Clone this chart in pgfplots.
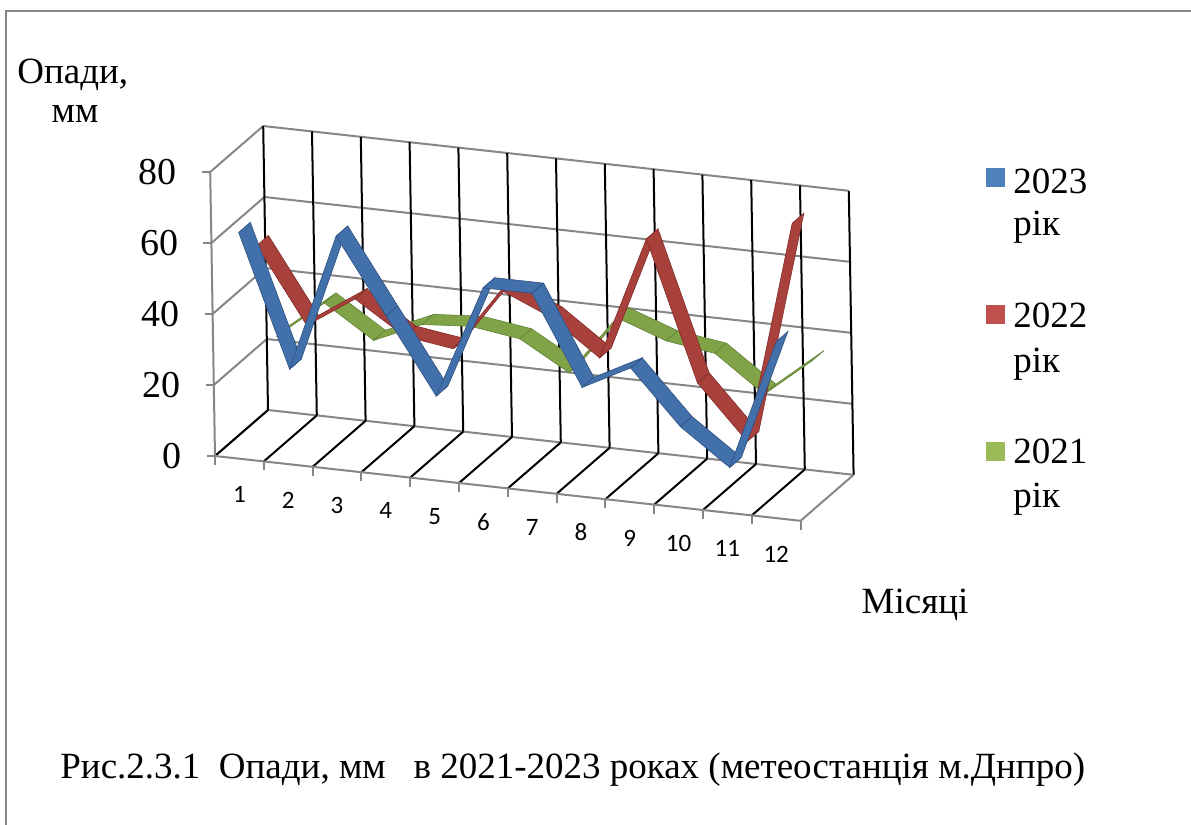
\documentclass[border=0pt]{standalone}
\usepackage{pgfplots}
\pgfplotsset{compat=1.18}
\usepackage{pgfplotstable}
\usepackage{fontspec}
\setmainfont{Liberation Serif}
\newfontfamily\carlito{Carlito}
\definecolor{gridgray}{RGB}{134,134,134}
\definecolor{c23}{RGB}{79,129,189}
\definecolor{c22}{RGB}{192,80,77}
\definecolor{c21}{RGB}{155,187,89}
\definecolor{r23}{RGB}{66,112,170}
\definecolor{r22}{RGB}{168,64,60}
\definecolor{r21}{RGB}{128,163,72}
\definecolor{e23}{RGB}{45,80,128}
\definecolor{e22}{RGB}{128,44,40}
\definecolor{e21}{RGB}{100,130,55}

% m = month, d = offset across the ribbon depth, a = 2023, b = 2022, c = 2021
\pgfplotstableread{
m d a b c
1 -0.33 63 55 25
2 -0.33 26 34 36
3 -0.33 65 43 27
4 -0.33 44 34 33
5 -0.33 23 32 34
6 -0.33 55 50 32
7 -0.33 55 44 24
8 -0.33 30 34 41
9 -0.33 37 69 36
10 -0.33 22 30 34
11 -0.33 12 15 24
12 -0.33 49 78 35
1 0.33 63 55 25
2 0.33 26 34 36
3 0.33 65 43 27
4 0.33 44 34 33
5 0.33 23 32 34
6 0.33 55 50 32
7 0.33 55 44 24
8 0.33 30 34 41
9 0.33 37 69 36
10 0.33 22 30 34
11 0.33 12 15 24
12 0.33 49 78 35
}\ribbons

\newcommand{\bigtxt}{\fontsize{18.5bp}{21bp}\selectfont}
\newcommand{\tickfont}{\fontsize{19bp}{21bp}\selectfont}
\newcommand{\mfont}{\carlito\fontsize{12.5bp}{14bp}\selectfont}

\begin{document}
\begin{tikzpicture}
\useasboundingbox (0,0) rectangle (595.5bp,-412.5bp);
% frame
\draw[gridgray, line width=1bp] (2.75bp,-412.5bp) -- (2.75bp,-5.5bp) -- (595.5bp,-5.5bp);

\begin{axis}[
  at={(107.5bp,-228bp)}, anchor=origin,
  x={(24.4bp,-2.7bp)}, y={(8.833bp,7.667bp)}, z={(-0.03bp,1.775bp)},
  xmin=0, xmax=12, ymin=0, ymax=3, zmin=0, zmax=80,
  hide axis, clip=false,
]
% back wall and left wall horizontal grid lines, left axis ticks and labels
\pgfplotsinvokeforeach{0,20,40,60,80}{
  \draw[gridgray, line width=1bp] (axis cs:0,3,#1) -- (axis cs:12,3,#1);
  \draw[gridgray, line width=1bp] (axis cs:0,0,#1) -- (axis cs:0,3,#1);
  \draw[gridgray, line width=1bp] (axis cs:0,0,#1) -- ++(-4bp,0);
  \node[anchor=east, xshift=-16.5bp, inner sep=0pt, font=\tickfont] at (axis cs:0,0,#1) {#1};
}
% back wall verticals
\pgfplotsinvokeforeach{0,...,12}{
  \draw[black, line width=1bp] (axis cs:#1,3,0) -- (axis cs:#1,3,80);
}
% floor depth lines
\pgfplotsinvokeforeach{0,...,11}{
  \draw[black, line width=1bp] (axis cs:#1,0,0) -- (axis cs:#1,3,0);
}
\draw[gridgray, line width=1bp] (axis cs:12,0,0) -- (axis cs:12,3,0);
% front edge with ticks, left front edge
\draw[gridgray, line width=1bp] (axis cs:0,0,0) -- (axis cs:12,0,0);
\pgfplotsinvokeforeach{0,...,12}{
  \draw[gridgray, line width=1bp] (axis cs:#1,0,0) -- ++(0,-4.5bp);
}
\draw[gridgray, line width=1bp] (axis cs:0,0,0) -- (axis cs:0,0,80);
% month labels
\node[font=\mfont, yshift=-18bp] at (axis cs:0.5,0,0) {1};
\node[font=\mfont, yshift=-18bp] at (axis cs:1.5,0,0) {2};
\node[font=\mfont, yshift=-18bp] at (axis cs:2.5,0,0) {3};
\node[font=\mfont, yshift=-18bp] at (axis cs:3.5,0,0) {4};
\node[font=\mfont, yshift=-18bp] at (axis cs:4.5,0,0) {5};
\node[font=\mfont, yshift=-18bp] at (axis cs:5.5,0,0) {6};
\node[font=\mfont, yshift=-18bp] at (axis cs:6.5,0,0) {7};
\node[font=\mfont, yshift=-18bp] at (axis cs:7.5,0,0) {8};
\node[font=\mfont, yshift=-18bp] at (axis cs:8.5,0,0) {9};
\node[font=\mfont, yshift=-18bp] at (axis cs:9.5,0,0) {10};
\node[font=\mfont, yshift=-18bp] at (axis cs:10.5,0,0) {11};
\node[font=\mfont, yshift=-18bp] at (axis cs:11.5,0,0) {12};

% ribbons: 2021 (back), 2022 (middle), 2023 (front)
\addplot3[surf, shader=faceted, mesh/cols=12,
  colormap={cm21}{color=(r21) color=(r21)}, faceted color=e21, line width=0.3bp]
  table[x expr=\thisrow{m}-0.5, y expr=\thisrow{d}+2.5, z=c] {\ribbons};
\addplot3[surf, shader=faceted, mesh/cols=12,
  colormap={cm22}{color=(r22) color=(r22)}, faceted color=e22, line width=0.3bp]
  table[x expr=\thisrow{m}-0.5, y expr=\thisrow{d}+1.5, z=b] {\ribbons};
\addplot3[surf, shader=faceted, mesh/cols=12,
  colormap={cm23}{color=(r23) color=(r23)}, faceted color=e23, line width=0.3bp]
  table[x expr=\thisrow{m}-0.5, y expr=\thisrow{d}+0.5, z=a] {\ribbons};
\end{axis}

% axis titles
\node[anchor=base west, inner sep=0pt, font=\bigtxt] at (8.5bp,-41.5bp) {Опади,};
\node[anchor=base, inner sep=0pt, font=\bigtxt] at (37.5bp,-61bp) {мм};
\node[anchor=center, inner sep=0pt, font=\bigtxt] at (457.5bp,-302.5bp) {Місяці};

% legend
\fill[c23] (493bp,-84bp) rectangle (502.5bp,-93.5bp);
\node[anchor=base west, inner sep=0pt, font=\bigtxt] at (506.5bp,-96.5bp) {2023};
\node[anchor=base west, inner sep=0pt, font=\bigtxt] at (506.5bp,-117.5bp) {рік};
\fill[c22] (493bp,-152.5bp) rectangle (502.5bp,-162bp);
\node[anchor=base west, inner sep=0pt, font=\bigtxt] at (506.5bp,-163.5bp) {2022};
\node[anchor=base west, inner sep=0pt, font=\bigtxt] at (506.5bp,-186bp) {рік};
\fill[c21] (493bp,-221bp) rectangle (502.5bp,-230.5bp);
\node[anchor=base west, inner sep=0pt, font=\bigtxt] at (506.5bp,-231.5bp) {2021};
\node[anchor=base west, inner sep=0pt, font=\bigtxt] at (506.5bp,-253.5bp) {рік};

% caption
\node[anchor=base west, inner sep=0pt, font=\fontsize{18.5bp}{21bp}\selectfont] at (30bp,-389bp)
  {Рис.2.3.1\ \ Опади, мм\ \ \ в 2021-2023 роках (метеостанція м.Днпро)};
\end{tikzpicture}
\end{document}
